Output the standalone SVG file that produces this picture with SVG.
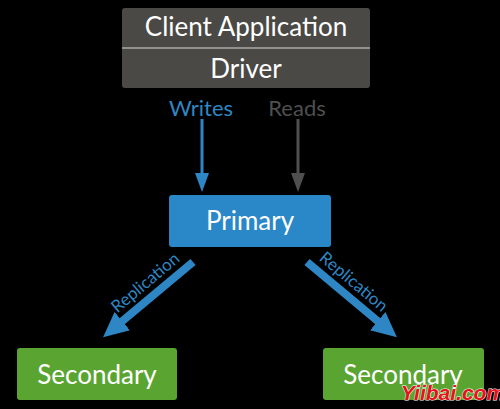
<svg xmlns="http://www.w3.org/2000/svg" width="500" height="409" viewBox="0 0 500 409">
<style>
.lbl{font-family:Lato,"Open Sans","DejaVu Sans",sans-serif;fill:#ffffff;text-anchor:middle}
.big{font-size:26px}
.edge{font-family:Lato,"Open Sans","DejaVu Sans",sans-serif;font-size:22px;text-anchor:middle}
.rep{font-family:Lato,"Open Sans","DejaVu Sans",sans-serif;font-size:17px;fill:#2e87c4;text-anchor:middle}
</style>
<defs>
<marker id="hb" markerUnits="userSpaceOnUse" viewBox="0 0 19 14" refX="1" refY="7" markerWidth="19" markerHeight="14" orient="auto"><path d="M0,0 L19,7 L0,14 z" fill="#2e87c4"/></marker>
<marker id="hg" markerUnits="userSpaceOnUse" viewBox="0 0 19 14" refX="1" refY="7" markerWidth="19" markerHeight="14" orient="auto"><path d="M0,0 L19,7 L0,14 z" fill="#4f4f4f"/></marker>
<marker id="hr" markerUnits="userSpaceOnUse" viewBox="0 0 25 24" refX="1" refY="12" markerWidth="25" markerHeight="24" orient="auto"><path d="M0,0 L25,12 L0,24 z" fill="#2e87c4"/></marker>
</defs>
<rect width="500" height="409" fill="#000"/>
<g id="client">
<rect x="122" y="8" width="248" height="80" rx="3" fill="#4a4945"/>
<line x1="122" y1="48" x2="370" y2="48" stroke="#a8a8a8" stroke-width="1.5"/>
<text class="lbl big" x="246" y="36">Client Application</text>
<text class="lbl big" x="246" y="78">Driver</text>
</g>
<g id="primary">
<rect x="169" y="195" width="162" height="52" rx="3" fill="#2a87c8"/>
<text class="lbl big" x="250" y="230">Primary</text>
</g>
<g id="secondary1">
<rect x="17" y="348" width="160" height="52" rx="3" fill="#5aa532"/>
<text class="lbl big" x="97" y="384">Secondary</text>
</g>
<g id="secondary2">
<rect x="323" y="348" width="161" height="52" rx="3" fill="#5aa532"/>
<text class="lbl big" x="403" y="384">Secondary</text>
</g>
<g id="connectors">
<line x1="202" y1="119" x2="202" y2="174" stroke="#2e87c4" stroke-width="3" marker-end="url(#hb)"/>
<text class="edge" x="201" y="116" fill="#2e87c4">Writes</text>
<line x1="298" y1="119" x2="298" y2="174" stroke="#4f4f4f" stroke-width="3" marker-end="url(#hg)"/>
<text class="edge" x="297" y="116" fill="#4f4f4f">Reads</text>
<line x1="193" y1="262" x2="121.5" y2="321.8" stroke="#2e87c4" stroke-width="8" marker-end="url(#hr)"/>
<text class="rep" transform="translate(149,287) rotate(-40)">Replication</text>
<line x1="307" y1="262" x2="378.5" y2="321.8" stroke="#2e87c4" stroke-width="8" marker-end="url(#hr)"/>
<text class="rep" transform="translate(350,286) rotate(40)">Replication</text>
</g>
<text x="453" y="400" font-family="'Liberation Sans',sans-serif" font-size="21" font-weight="bold" font-style="italic" fill="#e8101a" stroke="#ffffff" stroke-width="1" paint-order="stroke" text-anchor="middle">Yiibai.com</text>
</svg>
